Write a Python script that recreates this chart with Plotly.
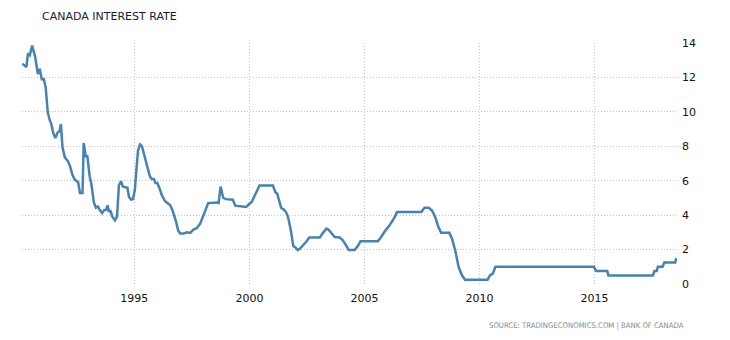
import plotly.graph_objects as go

# decimal year positions and rate values
years = [1990.13, 1990.31, 1990.38, 1990.46, 1990.56, 1990.69, 1990.81, 1990.89, 1990.98,
         1991.07, 1991.15, 1991.24, 1991.33, 1991.38, 1991.48, 1991.57, 1991.67, 1991.76,
         1991.81, 1991.88, 1991.98, 1992.10, 1992.20, 1992.31, 1992.41, 1992.56, 1992.64,
         1992.75, 1992.80, 1992.89, 1992.96, 1993.06, 1993.13, 1993.24, 1993.33, 1993.42,
         1993.51, 1993.60, 1993.68, 1993.78, 1993.84, 1993.90, 1993.96, 1994.04, 1994.16,
         1994.25, 1994.33, 1994.42, 1994.50, 1994.62, 1994.70, 1994.77, 1994.86, 1994.94,
         1995.02, 1995.10, 1995.16, 1995.25, 1995.33, 1995.42, 1995.50, 1995.60, 1995.68,
         1995.76, 1995.85, 1995.92, 1996.00, 1996.10, 1996.20, 1996.33, 1996.44, 1996.56,
         1996.65, 1996.73, 1996.82, 1996.90, 1996.99, 1997.14, 1997.28, 1997.43, 1997.57,
         1997.72, 1997.86, 1997.95, 1998.04, 1998.12, 1998.21, 1998.58, 1998.66, 1998.75,
         1998.86, 1998.98, 1999.28, 1999.39, 1999.74, 1999.86, 2000.00, 2000.10, 2000.20,
         2000.32, 2000.44, 2001.02, 2001.13, 2001.21, 2001.30, 2001.38, 2001.50, 2001.59,
         2001.68, 2001.80, 2001.91, 2002.00, 2002.10, 2002.20, 2002.33, 2002.47, 2002.60,
         2003.06, 2003.20, 2003.35, 2003.43, 2003.57, 2003.71, 2003.92, 2004.06, 2004.20,
         2004.32, 2004.57, 2004.71, 2004.83, 2005.58, 2005.68, 2005.80, 2005.94, 2006.09,
         2006.23, 2006.32, 2006.41, 2007.47, 2007.61, 2007.80, 2007.95, 2008.10, 2008.20,
         2008.33, 2008.69, 2008.80, 2008.94, 2009.09, 2009.23, 2009.37, 2010.35, 2010.45,
         2010.58, 2010.69, 2014.97, 2015.07, 2015.55, 2015.60, 2017.53, 2017.60, 2017.70,
         2017.75, 2017.95, 2018.03, 2018.50, 2018.55]
rates = [12.8, 12.6, 13.4, 13.3, 13.85, 13.2, 12.2, 12.5, 11.9,
         11.9, 11.4, 9.96, 9.5, 9.35, 8.77, 8.48, 8.8, 8.9,
         9.29, 7.94, 7.36, 7.17, 6.88, 6.34, 6.07, 5.91, 5.28,
         5.28, 8.19, 7.42, 7.42, 6.25, 5.85, 4.76, 4.43, 4.5,
         4.28, 4.12, 4.28, 4.32, 4.57, 4.18, 4.28, 3.93, 3.7,
         3.93, 5.72, 5.97, 5.66, 5.59, 5.59, 5.05, 4.9, 4.93,
         5.43, 6.78, 7.75, 8.1, 8.0, 7.55, 7.13, 6.59, 6.24,
         6.1, 6.1, 5.86, 5.86, 5.53, 5.14, 4.82, 4.7, 4.57,
         4.32, 3.99, 3.6, 3.12, 2.93, 2.93, 3.0, 2.97, 3.16,
         3.25, 3.5, 3.8, 4.12, 4.32, 4.7, 4.74, 4.7, 5.66,
         5.01, 4.93, 4.9, 4.55, 4.5, 4.47, 4.66, 4.76, 5.05,
         5.43, 5.72, 5.72, 5.33, 5.24, 4.76, 4.43, 4.32, 4.18,
         3.89, 3.12, 2.2, 2.12, 1.97, 2.06, 2.25, 2.45, 2.7,
         2.7, 2.97, 3.22, 3.17, 2.97, 2.73, 2.7, 2.54, 2.25,
         1.97, 1.97, 2.2, 2.49, 2.49, 2.64, 2.89, 3.16, 3.41,
         3.66, 3.89, 4.18, 4.18, 4.43, 4.43, 4.24, 3.8, 3.35,
         2.97, 2.97, 2.64, 1.97, 1.0, 0.52, 0.25, 0.25, 0.5,
         0.6, 1.0, 1.0, 0.75, 0.75, 0.5, 0.5, 0.75, 0.75,
         1.0, 1.0, 1.25, 1.25, 1.5]

x_ticks = [1995, 2000, 2005, 2010, 2015]
x_tick_labels = ["1995", "2000", "2005", "2010", "2015"]
y_ticks = [0, 2, 4, 6, 8, 10, 12, 14]

title_text = "CANADA INTEREST RATE"
source_text = "SOURCE: TRADINGECONOMICS.COM | BANK OF CANADA"

FONT = "DejaVu Sans"
NARROW = "Liberation Sans Narrow, DejaVu Sans Condensed, DejaVu Sans"

fig = go.Figure()
fig.add_trace(go.Scatter(x=years, y=rates, mode="lines",
                         line=dict(color="#4682b4", width=2.5),
                         hoverinfo="x+y"))

fig.update_layout(
    width=730, height=340,
    margin=dict(l=22, r=53, t=43, b=56),
    paper_bgcolor="white", plot_bgcolor="white",
    showlegend=False,
    font=dict(family=FONT, size=11, color="#111111"),
    xaxis=dict(range=[1990.12, 2018.58], tickvals=x_ticks, ticktext=x_tick_labels,
               showgrid=True, gridcolor="#c4c4c4", griddash="1px,2px", gridwidth=1,
               zeroline=False, showline=False, ticks="", ticklabelstandoff=6,
               tickfont=dict(family=FONT, size=11, color="#111111")),
    yaxis=dict(range=[0, 14], tickvals=y_ticks, side="right",
               showgrid=True, gridcolor="#c4c4c4", griddash="1px,2px", gridwidth=1,
               zeroline=False, showline=False, ticks="", ticklabelstandoff=4,
               tickfont=dict(family=FONT, size=11, color="#111111")),
    annotations=[
        dict(text=title_text, x=40, y=17, xref="paper", yref="paper",
             showarrow=False, xanchor="left", yanchor="middle",
             font=dict(family=FONT, size=11, color="#1a1a40")),
        dict(text=source_text, x=686, y=325, xref="paper", yref="paper",
             showarrow=False, xanchor="right", yanchor="middle",
             font=dict(family=NARROW, size=7.7, color="#8a8a8a")),
    ],
)

# convert pixel positions of annotations to paper coords
pw = 730 - 22 - 53
ph = 340 - 43 - 56
for a in fig.layout.annotations:
    a.x = (a.x - 22) / pw
    a.y = 1 - (a.y - 43) / ph

fig.write_html("out.html")
